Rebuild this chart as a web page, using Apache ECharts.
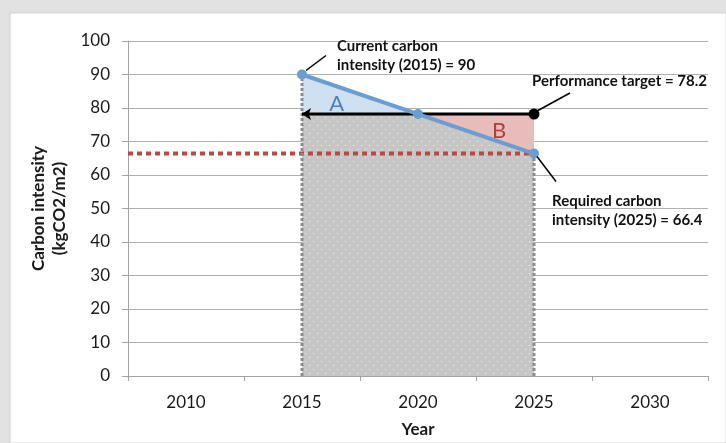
<!DOCTYPE html>
<html>
<head>
<meta charset="utf-8">
<script src="https://cdn.jsdelivr.net/npm/echarts@6/dist/echarts.min.js"></script>
<style>
  html, body { margin: 0; padding: 0; background: #e2e2e2; }
  #chart { width: 726px; height: 443px; }
</style>
</head>
<body>
<div id="chart"></div>
<script>
// ---- data ----
const xCategories = ['2010', '2015', '2020', '2025', '2030'];
const xBandMin = 2007.5;   // left edge of the first category band
const xBandMax = 2032.5;   // right edge of the last category band
const yMin = 0, yMax = 100, yInterval = 10;

const baseYear = 2015;
const midYear = 2020;
const targetYear = 2025;
const currentIntensity = 90;       // 2015
const performanceTarget = 78.2;
const requiredIntensity = 66.4;    // 2025

const trajectoryYears = [2015, 2020, 2025];
const trajectoryValues = [90, 78.2, 66.4];
const targetYears = [2015, 2025];
const targetValues = [78.2, 78.2];

const labelCurrent = 'Current carbon\nintensity (2015) = 90';
const labelTarget = 'Performance target = 78.2';
const labelRequired = 'Required carbon\nintensity (2025) = 66.4';
const yAxisTitle = 'Carbon intensity\n(kgCO2/m2)';
const xAxisTitle = 'Year';

// ---- derived regions (from the values above) ----
const grayPoly = [[baseYear, 0], [baseYear, Math.min(currentIntensity, performanceTarget)],
  ...trajectoryYears.map((yr, i) => [yr, Math.min(trajectoryValues[i], performanceTarget)]).slice(1),
  [targetYear, 0]];
const polyA = [[baseYear, currentIntensity], [midYear, performanceTarget], [baseYear, performanceTarget]];
const polyB = [[midYear, performanceTarget], [targetYear, requiredIntensity], [targetYear, performanceTarget]];

// dotted pattern for the gray area
const pat = document.createElement('canvas');
pat.width = 8; pat.height = 8;
const pctx = pat.getContext('2d');
pctx.fillStyle = '#c6c6c6'; pctx.fillRect(0, 0, 8, 8);
pctx.fillStyle = '#efefef';
pctx.fillRect(1, 1, 1, 1); pctx.fillRect(5, 5, 1, 1);

const FONT = 'Lato';

function polySeries(name, poly, style) {
  return {
    type: 'custom', name: name, xAxisIndex: 1, yAxisIndex: 0, z: 2,
    data: [0],
    renderItem: function (params, api) {
      return { type: 'polygon', shape: { points: poly.map(p => api.coord(p)) }, style: style, silent: true };
    }
  };
}

const chart = echarts.init(document.getElementById('chart'));
chart.setOption({
  animation: false,
  backgroundColor: 'transparent',
  grid: { left: 128, right: 18, top: 41, bottom: 62 },
  xAxis: [{
    type: 'category', data: xCategories, boundaryGap: true,
    axisLine: { lineStyle: { color: '#a4a4a4', width: 1 } },
    axisTick: { show: true, length: 5, lineStyle: { color: '#a4a4a4' } },
    axisLabel: { color: '#1a1a1a', fontFamily: FONT, fontSize: 17, margin: 18 },
    name: xAxisTitle, nameLocation: 'middle', nameGap: 45,
    nameTextStyle: { color: '#1a1a1a', fontFamily: FONT, fontWeight: 'bold', fontSize: 17 },
    splitLine: { show: false }
  }, {
    type: 'value', min: xBandMin, max: xBandMax, show: false
  }],
  yAxis: {
    type: 'value', min: yMin, max: yMax, interval: yInterval,
    axisLine: { show: true, lineStyle: { color: '#a4a4a4' } },
    axisTick: { show: true, length: 6, lineStyle: { color: '#a4a4a4' } },
    axisLabel: { color: '#1a1a1a', fontFamily: FONT, fontSize: 17, margin: 18 },
    splitLine: { lineStyle: { color: '#b0b0b0', width: 1 } },
    name: yAxisTitle, nameLocation: 'middle', nameGap: 53, nameRotate: 90,
    nameTextStyle: { color: '#1a1a1a', fontFamily: FONT, fontWeight: 'bold', fontSize: 17, lineHeight: 21 }
  },
  series: [
    polySeries('baseline', grayPoly, { fill: { image: pat, repeat: 'repeat' } }),
    polySeries('A', polyA, { fill: '#cfe0f1' }),
    polySeries('B', polyB, { fill: '#e7bcbb' }),
    {
      type: 'line', name: 'required', xAxisIndex: 1, z: 3, symbol: 'none',
      data: [[xBandMin, requiredIntensity], [targetYear, requiredIntensity]],
      lineStyle: { color: '#b84a44', width: 4, type: [5, 4] }
    },
    {
      type: 'line', name: 'left edge', xAxisIndex: 1, z: 3, symbol: 'none',
      data: [[baseYear, 0], [baseYear, currentIntensity]],
      lineStyle: { color: '#8c8c8c', width: 3, type: [3, 2] }
    },
    {
      type: 'line', name: 'right edge', xAxisIndex: 1, z: 3, symbol: 'none',
      data: [[targetYear, 0], [targetYear, requiredIntensity]],
      lineStyle: { color: '#8c8c8c', width: 3, type: [3, 2] }
    },
    {
      type: 'line', name: 'target', xAxisIndex: 1, z: 4,
      data: [
        { value: [targetYears[0], targetValues[0]], symbol: 'arrow', symbolSize: [9, 9], symbolRotate: 90 },
        { value: [targetYears[1], targetValues[1]], symbol: 'circle', symbolSize: 11 }
      ],
      showAllSymbol: true,
      itemStyle: { color: '#000' },
      lineStyle: { color: '#000', width: 3 }
    },
    {
      type: 'line', name: 'trajectory', xAxisIndex: 1, z: 5,
      data: trajectoryYears.map((yr, i) => [yr, trajectoryValues[i]]),
      symbol: 'circle', symbolSize: 10, showAllSymbol: true,
      itemStyle: { color: '#6b9dd3' },
      lineStyle: { color: '#6b9dd3', width: 4 }
    }
  ]
});

// ---- annotations anchored through the axes ----
function px(pt) { return chart.convertToPixel({ xAxisIndex: 1, yAxisIndex: 0 }, pt); }
const pCur = px([baseYear, currentIntensity]);
const pTgt = px([targetYear, performanceTarget]);
const pReq = px([targetYear, requiredIntensity]);
const pA = px([(baseYear + midYear) / 2 - 1, (currentIntensity + performanceTarget * 2) / 3 - 0.8]);
const pB = px([(midYear + targetYear) / 2 + 1, (requiredIntensity + performanceTarget * 2) / 3 - 1]);

const annoFont = { fontFamily: FONT, fontWeight: 'bold', fontSize: 15, fill: '#111', lineHeight: 19 };
chart.setOption({
  graphic: [
    { type: 'rect', z: -10, silent: true, shape: { x: 10, y: 13, width: 716, height: 430 },
      style: { fill: '#ffffff', stroke: '#d2d2d2', lineWidth: 1 } },
    { type: 'line', z: 10, shape: { x1: pCur[0] + 4, y1: pCur[1] - 4, x2: pCur[0] + 24, y2: pCur[1] - 19 },
      style: { stroke: '#000', lineWidth: 1.5 } },
    { type: 'text', z: 10, x: pCur[0] + 35, y: pCur[1] - 38,
      style: Object.assign({ text: labelCurrent }, annoFont) },
    { type: 'line', z: 10, shape: { x1: pTgt[0] + 3, y1: pTgt[1] - 3, x2: pTgt[0] + 36, y2: pTgt[1] - 21 },
      style: { stroke: '#000', lineWidth: 1.5 } },
    { type: 'text', z: 10, x: pTgt[0] - 2, y: pTgt[1] - 42,
      style: Object.assign({ text: labelTarget }, annoFont) },
    { type: 'line', z: 10, shape: { x1: pReq[0] + 3, y1: pReq[1] + 3, x2: pReq[0] + 22, y2: pReq[1] + 28 },
      style: { stroke: '#000', lineWidth: 1.5 } },
    { type: 'text', z: 10, x: pReq[0] + 18, y: pReq[1] + 38,
      style: Object.assign({ text: labelRequired }, annoFont) },
    { type: 'text', z: 10, x: pA[0], y: pA[1], style: { text: 'A', fontFamily: FONT, fontSize: 22,
      fill: '#4d80bd', align: 'center', verticalAlign: 'middle' } },
    { type: 'text', z: 10, x: pB[0], y: pB[1], style: { text: 'B', fontFamily: FONT, fontSize: 22,
      fill: '#a9433e', align: 'center', verticalAlign: 'middle' } }
  ]
});
</script>
</body>
</html>
